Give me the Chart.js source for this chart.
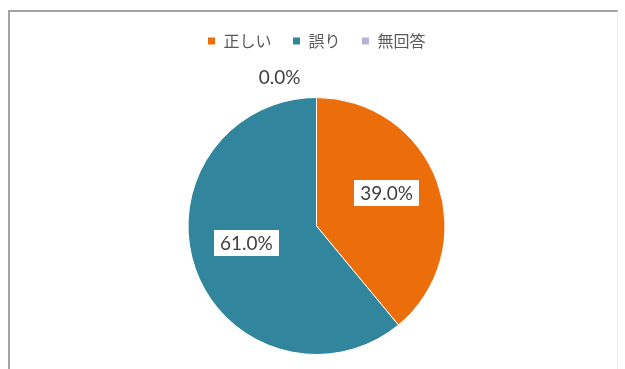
<!DOCTYPE html>
<html>
<head>
<meta charset="utf-8">
<script src="https://cdn.jsdelivr.net/npm/chart.js@4"></script>
<style>
  html, body { margin: 0; padding: 0; background: #ffffff; }
  #wrap { position: relative; width: 625px; height: 369px; overflow: hidden; }
  #frame {
    position: absolute; left: 8px; top: 10px; width: 610px; height: 400px;
    border-left: 2px solid #a3a3a3; border-top: 2px solid #a3a3a3;
    border-right: 1px solid #ececec; box-sizing: border-box;
  }
  canvas { position: absolute; left: 0; top: 0; }
</style>
</head>
<body>
<div id="wrap">
  <div id="frame"></div>
  <canvas id="c" width="625" height="369"></canvas>
</div>
<script>
// Answer breakdown (percent of respondents)
const categories = ['正しい', '誤り', '無回答'];
const shares = [39.0, 61.0, 0.0];
const sliceColors = ['#ec6e0b', '#31859c', '#b9b0d4'];

const LABEL_FONT = '19px Lato, "Open Sans", sans-serif';

// Adds empty space under the legend so the pie sits lower
const legendGap = {
  id: 'legendGap',
  beforeLayout(chart) {
    const lg = chart.legend;
    if (lg && !lg._gapPatched) {
      const fit = lg.fit;
      lg.fit = function () {
        fit.call(this);
        this.height += 38;
      };
      lg._gapPatched = true;
    }
  }
};

// Percentage labels: boxed inside the slice, plain text outside for empty slices
const sliceLabels = {
  id: 'sliceLabels',
  afterDatasetsDraw(chart) {
    const ctx = chart.ctx;
    const meta = chart.getDatasetMeta(0);
    ctx.save();
    ctx.font = LABEL_FONT;
    ctx.textAlign = 'center';
    ctx.textBaseline = 'middle';
    meta.data.forEach((arc, i) => {
      const v = shares[i];
      const text = v.toFixed(1) + '%';
      const p = arc.getProps(['x', 'y', 'startAngle', 'endAngle', 'outerRadius'], true);
      if (v > 0) {
        const mid = (p.startAngle + p.endAngle) / 2;
        const d = p.outerRadius * 0.58;
        const x = p.x + Math.cos(mid) * d;
        const y = p.y + Math.sin(mid) * d - 8;
        const w = ctx.measureText(text).width + 12;
        const h = 26;
        ctx.fillStyle = '#ffffff';
        ctx.fillRect(Math.round(x - w / 2), Math.round(y - h / 2), Math.round(w), h);
        ctx.fillStyle = '#404040';
        ctx.fillText(text, x, y + 1);
      } else {
        const ang = p.startAngle - 14 * Math.PI / 180;
        const d = p.outerRadius * 1.19;
        const x = p.x + Math.cos(ang) * d;
        const y = p.y + Math.sin(ang) * d;
        ctx.fillStyle = '#404040';
        ctx.fillText(text, x, y);
      }
    });
    ctx.restore();
  }
};

new Chart(document.getElementById('c'), {
  type: 'pie',
  data: {
    labels: categories,
    datasets: [{
      data: shares,
      backgroundColor: sliceColors,
      borderColor: '#ffffff',
      borderWidth: 1
    }]
  },
  options: {
    responsive: false,
    animation: false,
    layout: { padding: { top: 12, left: 8, right: 0, bottom: 14 } },
    plugins: {
      legend: {
        position: 'top',
        labels: {
          boxWidth: 8,
          boxHeight: 8,
          padding: 21,
          color: '#595959',
          font: { family: '"Noto Sans CJK JP", sans-serif', size: 16 }
        }
      },
      tooltip: { enabled: false }
    }
  },
  plugins: [legendGap, sliceLabels]
});
</script>
</body>
</html>
